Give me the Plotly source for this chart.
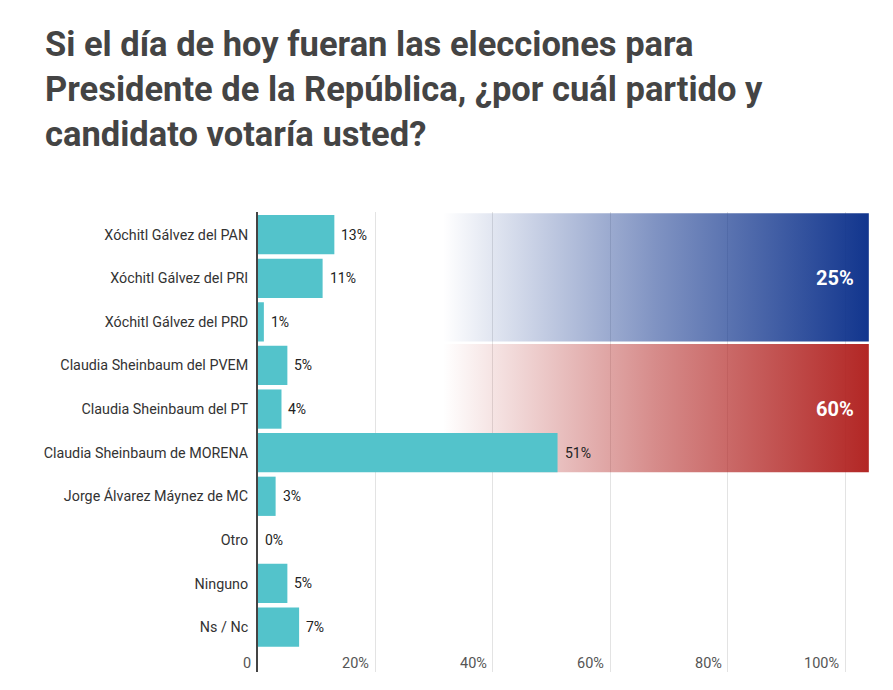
import plotly.graph_objects as go

# ---------------- data ----------------
categories = [
    "Xóchitl Gálvez del PAN",
    "Xóchitl Gálvez del PRI",
    "Xóchitl Gálvez del PRD",
    "Claudia Sheinbaum del PVEM",
    "Claudia Sheinbaum del PT",
    "Claudia Sheinbaum de MORENA",
    "Jorge Álvarez Máynez de MC",
    "Otro",
    "Ninguno",
    "Ns / Nc",
]
values = [13, 11, 1, 5, 4, 51, 3, 0, 5, 7]

group_names = ["Xóchitl Gálvez", "Claudia Sheinbaum"]
group_rows = [[0, 1, 2], [3, 4, 5]]
group_totals = [25, 60]
group_colors = ["10,47,138", "176,32,30"]

x_tick_values = [0, 20, 40, 60, 80, 100]
x_tick_labels = ["0", "20%", "40%", "60%", "80%", "100%"]

title_lines = ["Si el día de hoy fueran las elecciones para",
               "Presidente de la República, ¿por cuál partido y",
               "candidato votaría usted?"]

# ---------------- figure ----------------
FONT = "Roboto"
X_MAX = 104.2
Y_RANGE = [10.03, -0.52]
BOX_START = 31.5
BOX_END = 104.0
rows_idx = list(range(len(categories)))

fig = go.Figure()

# gradient group boxes (main axes, drawn beneath the bars' overlay axes)
for name, rows, total, rgb in zip(group_names, group_rows, group_totals, group_colors):
    y0 = min(rows) - 0.49
    y1 = max(rows) + 0.45
    fig.add_trace(go.Scatter(
        x=[BOX_START, BOX_END, BOX_END, BOX_START, BOX_START],
        y=[y0, y0, y1, y1, y0],
        mode="lines", line=dict(width=0),
        fill="toself",
        fillgradient=dict(type="horizontal",
                          colorscale=[[0, f"rgba({rgb},0)"],
                                      [0.5, f"rgba({rgb},0.52)"],
                                      [1, f"rgba({rgb},0.97)"]]),
        hoverinfo="skip", showlegend=False, name=name,
        xaxis="x", yaxis="y",
    ))
    fig.add_annotation(
        x=101.8, y=sum(rows) / len(rows), text=f"<b>{total}%</b>",
        xanchor="right", yanchor="middle", showarrow=False,
        font=dict(family=FONT, size=20, color="white"),
    )

# bars on overlay axes so they sit above the gradient boxes
fig.add_trace(go.Bar(
    x=values, y=rows_idx, orientation="h",
    width=0.9, marker=dict(color="#53c3cb", line=dict(width=0)),
    showlegend=False, xaxis="x2", yaxis="y2",
))

# value labels
for v, r in zip(values, rows_idx):
    fig.add_annotation(
        x=v, y=r, text=f"{v}%", xanchor="left", yanchor="middle",
        xshift=5, showarrow=False,
        font=dict(family=FONT, size=14, color="#222"),
    )

# x tick labels (right-aligned left of gridlines)
for v, lab in zip(x_tick_values, x_tick_labels):
    fig.add_annotation(
        x=v, y=9.84, text=lab, xanchor="right", yanchor="middle",
        xshift=-5 if v == 0 else -4, showarrow=False,
        font=dict(family=FONT, size=14.5, color="#555"),
    )

# title
fig.add_annotation(
    xref="paper", yref="paper", x=(43 - 258) / 612.3, y=(672 - 22) / 460,
    xanchor="left", yanchor="top", align="left", showarrow=False,
    text="<b>" + "<br>".join(title_lines) + "</b>",
    font=dict(family=FONT, size=34.5, color="#444"),
)

fig.update_layout(
    width=893, height=690,
    margin=dict(l=258, r=23, t=212, b=18),
    paper_bgcolor="white", plot_bgcolor="white",
    font=dict(family=FONT),
    bargap=0.1,
    xaxis=dict(range=[0, X_MAX], tickvals=x_tick_values[1:], showticklabels=False,
               showgrid=True, gridcolor="#e3e3e3", gridwidth=1,
               zeroline=False, showline=False, ticks=""),
    yaxis=dict(range=Y_RANGE, tickvals=rows_idx, ticktext=categories,
               showgrid=False, zeroline=False,
               showline=True, linecolor="#444", linewidth=2, ticks="",
               ticklabelstandoff=5,
               tickfont=dict(family=FONT, size=14.3, color="#333")),
    xaxis2=dict(range=[0, X_MAX], overlaying="x", visible=False),
    yaxis2=dict(range=Y_RANGE, overlaying="y", visible=False),
)

fig.write_html("out.html")
